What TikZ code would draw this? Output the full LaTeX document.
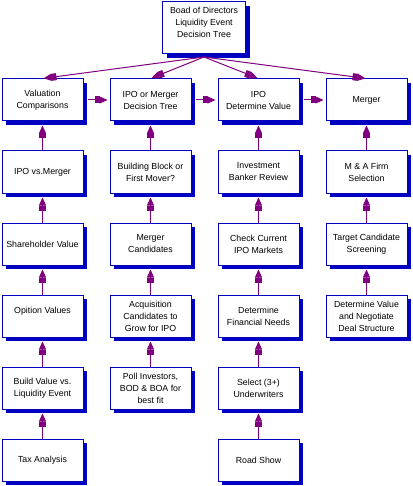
\documentclass[tikz,border=0pt]{standalone}
\usepackage{fontspec}
\setmainfont{Liberation Sans}
\usetikzlibrary{arrows.meta,shadows}

\definecolor{boxblue}{RGB}{0,0,192}
\definecolor{linkpurple}{RGB}{128,0,128}

\begin{document}
\begin{tikzpicture}[x=1pt,y=-1pt,
  -{Rectangle[length=5pt,width=7pt]Triangle[length=8pt,width=7pt]},
  draw=linkpurple,line width=1pt,shorten >=1pt,
  main box/.style={rectangle,draw=boxblue,fill=white,line width=1pt,
    minimum width=81pt,minimum height=42pt,align=center,inner sep=2pt,
    font=\fontsize{8.8}{12}\selectfont,
    drop shadow={shadow xshift=4pt,shadow yshift=-4pt,fill=boxblue,opacity=1}}]

  \useasboundingbox (0,0) rectangle (412,486);

  \node[main box,minimum width=83pt,minimum height=52pt] (bod) at (204,28)
    {Boad of Directors\\Liquidity Event\\Decision Tree\\\mbox{}};
  \coordinate (fan) at (204,57);

  \node[main box] (a1) at (42.5,100) {Valuation\\Comparisons};
  \node[main box] (a2) at (42.5,172) {IPO vs.Merger};
  \node[main box] (a3) at (42.5,244) {Shareholder Value};
  \node[main box] (a4) at (42.5,316) {Opition Values\\\mbox{}};
  \node[main box] (a5) at (42.5,388) {Build Value vs.\\Liquidity Event};
  \node[main box] (a6) at (42.5,460) {Tax Analysis};

  \node[main box] (b1) at (150.5,100) {IPO or Merger\\Decision Tree};
  \node[main box] (b2) at (150.5,172) {Building Block or\\First Mover?};
  \node[main box] (b3) at (150.5,244) {Merger\\Candidates};
  \node[main box] (b4) at (150.5,316) {Acquisition\\Candidates to\\Grow for IPO};
  \node[main box] (b5) at (150.5,388) {Poll Investors,\\BOD \& BOA for\\best fit};

  \node[main box] (c1) at (258.5,100) {IPO\\Determine Value};
  \node[main box] (c2) at (258.5,172) {Investment\\Banker Review};
  \node[main box] (c3) at (258.5,244) {Check Current\\IPO Markets};
  \node[main box] (c4) at (258.5,316) {Determine\\Financial Needs};
  \node[main box] (c5) at (258.5,388) {Select (3+)\\Underwriters};
  \node[main box] (c6) at (258.5,460) {Road Show};

  \node[main box] (d1) at (366.5,100) {Merger};
  \node[main box] (d2) at (366.5,172) {M \& A Firm\\Selection};
  \node[main box] (d3) at (366.5,244) {Target Candidate\\Screening};
  \node[main box] (d4) at (366.5,316) {Determine Value\\and Negotiate\\Deal Structure};

  % top box fans out to the first row
  \path[linkpurple]
    (fan) edge (a1.north)
    (fan) edge (b1.north)
    (fan) edge (c1.north)
    (fan) edge (d1.north);

  % first row, left to right
  \path[linkpurple,shorten <=4pt,shorten >=2pt]
    (a1) edge (b1)
    (b1) edge (c1)
    (c1) edge (d1);

  % columns, bottom up
  \path[linkpurple,shorten >=4pt]
    (a2) edge (a1)
    (a3) edge (a2)
    (a4) edge (a3)
    (a5) edge (a4)
    (a6) edge (a5)
    (b2) edge (b1)
    (b3) edge (b2)
    (b4) edge (b3)
    (b5) edge (b4)
    (c2) edge (c1)
    (c3) edge (c2)
    (c4) edge (c3)
    (c5) edge (c4)
    (c6) edge (c5)
    (d2) edge (d1)
    (d3) edge (d2)
    (d4) edge (d3);

\end{tikzpicture}
\end{document}
